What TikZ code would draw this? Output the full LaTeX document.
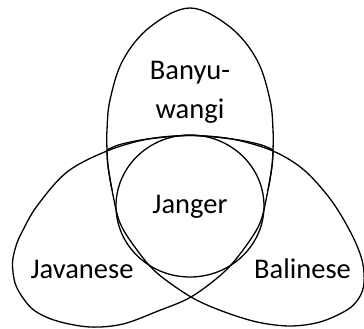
\documentclass[tikz,border=0pt]{standalone}
\usepackage{fontspec}
\setmainfont{Carlito}
\begin{document}
\begin{tikzpicture}[x=1pt,y=-1pt,
  outline/.style={draw=black, line width=1.3pt, line join=round},
  setlabel/.style={font=\fontsize{28.5}{34}\selectfont, anchor=base, inner sep=0pt}]
\useasboundingbox (0,0) rectangle (364,329);
% Javanese
\draw[outline] plot[smooth, tension=0.55] coordinates {
  (273,150) (260,144.5) (232,139) (190,135.5) (148,139) (107,151)
  (67,172) (37,206) (22,232) (16,246) (12.5,263) (15,283) (23,298)
  (35,311) (57,321) (90,327) (123,324) (158,311) (191,297) (223,273)
  (243,250) (260,223) (268,190) (272,166) (273,150)} -- cycle;
% Balinese
\draw[outline] plot[smooth, tension=0.55] coordinates {
  (107,150) (120,144.5) (148,139) (190,135.5) (232,139) (273,151)
  (304,170) (331,200) (351,233) (362,260) (364,283) (359,298) (347,310)
  (320,322) (290,326) (257,322) (222,311) (191,297) (157,273) (137,250)
  (120,223) (112,190) (108,166) (107,150)} -- cycle;
% Banyuwangi
\draw[outline] plot[smooth, tension=0.6] coordinates {
  (268,190) (272,166) (273,150) (273,130) (270,100) (257,60) (230,27)
  (190,8) (150,27) (123,60) (110,100) (107,130) (107,150) (108,166)
  (112,190)};
% Janger
\draw[outline] (190,206) ellipse [x radius=74, y radius=71];
\node[setlabel] (ban1) at (190,80) {Banyu-};
\node[setlabel] (ban2) at (190,118) {wangi};
\node[setlabel] (jan) at (190,213) {Janger};
\node[setlabel] (jav) at (82,278) {Javanese};
\node[setlabel] (bal) at (302.5,278) {Balinese};
\end{tikzpicture}
\end{document}
